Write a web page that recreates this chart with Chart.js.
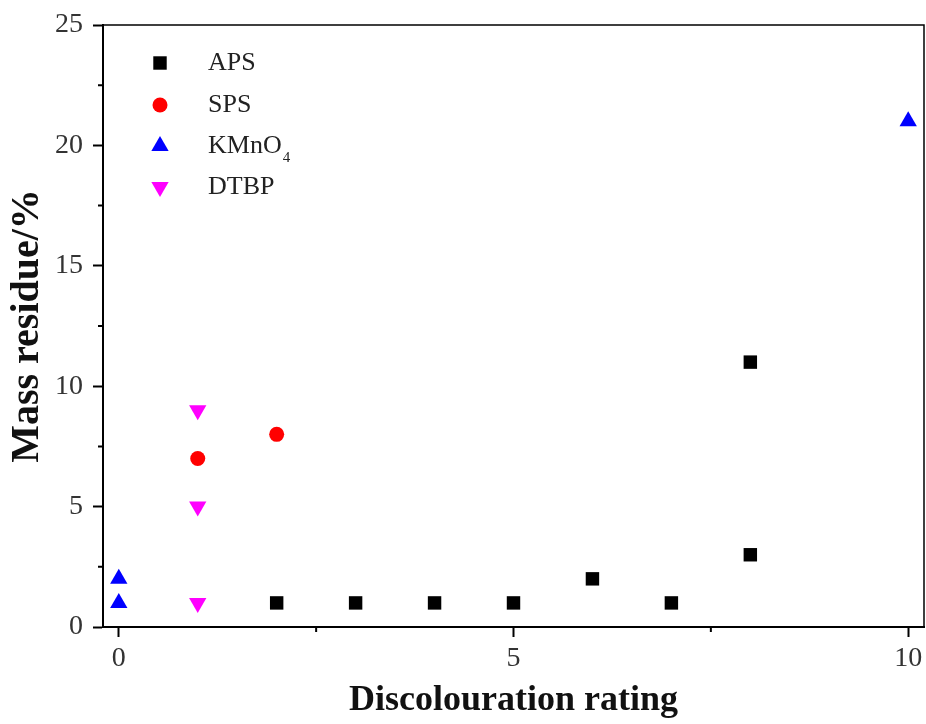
<!DOCTYPE html>
<html>
<head>
<meta charset="utf-8">
<script src="https://cdn.jsdelivr.net/npm/chart.js@4/dist/chart.umd.min.js"></script>
<style>
  body { margin: 0; background: #fff; }
  #wrap { width: 926px; height: 724px; }
</style>
</head>
<body>
<div id="wrap"><canvas id="chart" width="926" height="724"></canvas></div>
<script>
// data
const apsX = [2, 3, 4, 5, 6, 7, 8, 8];
const apsY = [1, 1, 1, 1, 2, 1, 3, 11];
const spsX = [1, 2];
const spsY = [7, 8];
const kmnX = [0, 0, 10];
const kmnY = [1, 2, 21];
const dtbpX = [1, 1, 1];
const dtbpY = [1, 5, 9];

const xTicks = [0, 5, 10];
const xMinor = [2.5, 7.5];
const yTicks = [0, 5, 10, 15, 20, 25];
const yMinor = [2.5, 7.5, 12.5, 17.5, 22.5];

const serif = "'Liberation Serif', 'DejaVu Serif', serif";

function pts(xs, ys) {
    return xs.map((x, i) => ({ x: x, y: ys[i] }));
}

const datasets = [
    { label: 'APS', data: pts(apsX, apsY), pointStyle: 'rect', pointRadius: 9.5,
      backgroundColor: '#000', borderColor: '#000', rotation: 0 },
    { label: 'SPS', data: pts(spsX, spsY), pointStyle: 'circle', pointRadius: 7.5,
      backgroundColor: '#f00', borderColor: '#f00', rotation: 0 },
    { label: 'KMnO', sub: '4', data: pts(kmnX, kmnY), pointStyle: 'triangle', pointRadius: 10,
      backgroundColor: '#00f', borderColor: '#00f', rotation: 0 },
    { label: 'DTBP', data: pts(dtbpX, dtbpY), pointStyle: 'triangle', pointRadius: 10,
      backgroundColor: '#f0f', borderColor: '#f0f', rotation: 180 }
];
datasets.forEach(d => {
    d.pointRotation = d.rotation;
    d.pointBorderWidth = 0;
    d.pointHoverRadius = d.pointRadius;
});

// minor ticks, frame and the legend inside the plot
const extras = {
    id: 'extras',
    afterDraw(chart) {
        const ctx = chart.ctx;
        const a = chart.chartArea;
        const xs = chart.scales.x, ys = chart.scales.y;
        ctx.save();
        ctx.strokeStyle = '#000';
        ctx.lineWidth = 1.5;
        ctx.beginPath();
        ctx.moveTo(a.left, a.top);
        ctx.lineTo(a.right, a.top);
        ctx.lineTo(a.right, a.bottom);
        ctx.stroke();

        ctx.lineWidth = 2;
        ctx.beginPath();
        xMinor.forEach(v => {
            const px = xs.getPixelForValue(v);
            ctx.moveTo(px, a.bottom);
            ctx.lineTo(px, a.bottom + 5);
        });
        yMinor.forEach(v => {
            const py = ys.getPixelForValue(v);
            ctx.moveTo(a.left, py);
            ctx.lineTo(a.left - 5, py);
        });
        ctx.stroke();

        // legend
        const rowY = [63, 105, 146, 187];
        const symX = a.left + 57;
        const textX = a.left + 105;
        datasets.forEach((d, i) => {
            const y = rowY[i];
            const opts = {
                pointStyle: d.pointStyle, radius: d.pointRadius, rotation: d.rotation,
                borderWidth: 0
            };
            ctx.fillStyle = d.backgroundColor;
            ctx.strokeStyle = d.borderColor;
            Chart.helpers.drawPoint(ctx, opts, symX, y);
            ctx.fillStyle = '#222';
            ctx.font = '26px ' + serif;
            ctx.textBaseline = 'middle';
            ctx.textAlign = 'left';
            ctx.fillText(d.label, textX, y);
            if (d.sub) {
                const w = ctx.measureText(d.label).width;
                ctx.font = '15px ' + serif;
                ctx.fillText(d.sub, textX + w + 1, y + 12);
            }
        });
        ctx.restore();
    }
};

new Chart(document.getElementById('chart'), {
    type: 'scatter',
    data: { datasets: datasets },
    options: {
        responsive: false,
        animation: false,
        layout: { autoPadding: false, padding: { top: 25, right: 2, left: 0, bottom: 0 } },
        plugins: {
            legend: { display: false },
            tooltip: { enabled: false }
        },
        scales: {
            x: {
                type: 'linear',
                min: -0.2,
                max: 10.2,
                afterBuildTicks: s => { s.ticks = xTicks.map(v => ({ value: v })); },
                afterFit: s => { s.height = 97; s.paddingRight = 0; s.paddingLeft = 0; },
                grid: { drawOnChartArea: false, tickLength: 10, tickWidth: 2, tickColor: '#000' },
                border: { color: '#000', width: 2 },
                ticks: { color: '#333', font: { family: serif, size: 28 }, padding: 5, maxRotation: 0 },
                title: {
                    display: true, text: 'Discolouration rating', color: '#111',
                    font: { family: serif, size: 36, weight: 'bold' }, padding: { top: 0, bottom: 2 }
                }
            },
            y: {
                type: 'linear',
                min: 0,
                max: 25,
                afterBuildTicks: s => { s.ticks = yTicks.map(v => ({ value: v })); },
                afterFit: s => { s.width = 103; s.paddingTop = 0; s.paddingBottom = 0; },
                grid: { drawOnChartArea: false, tickLength: 10, tickWidth: 2, tickColor: '#000' },
                border: { color: '#000', width: 2 },
                ticks: { color: '#333', font: { family: serif, size: 28 }, padding: 10 },
                title: {
                    display: true, text: 'Mass residue/%', color: '#111',
                    font: { family: serif, size: 40, weight: 'bold' }, padding: { top: 4, bottom: 0 }
                }
            }
        }
    },
    plugins: [extras]
});
</script>
</body>
</html>
